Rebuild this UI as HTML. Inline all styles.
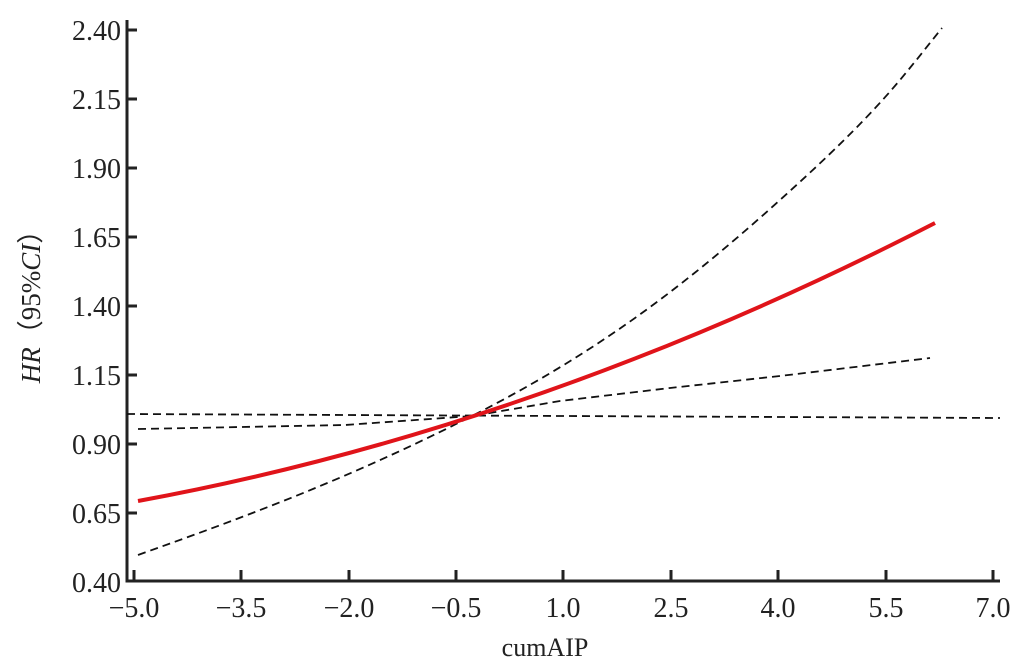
<!DOCTYPE html>
<html><head><style>body{margin:0;background:#fff}</style></head><body>
<svg width="1026" height="666" xmlns="http://www.w3.org/2000/svg" font-family="Liberation Serif, serif" fill="#222">
<g stroke="#222" stroke-width="3" fill="none">
<path d="M127,20 V581 H1000"/>
<path d="M127,30h10M127,99h10M127,168h10M127,237h10M127,306h10M127,375h10M127,444h10M127,513h10"/>
<path d="M134,581v-11M241,581v-11M349,581v-11M456,581v-11M563,581v-11M671,581v-11M778,581v-11M886,581v-11M993,581v-11"/>
</g>
<g font-size="28" text-anchor="end">
<text x="121" y="40">2.40</text><text x="121" y="109">2.15</text><text x="121" y="178">1.90</text><text x="121" y="247">1.65</text><text x="121" y="316">1.40</text><text x="121" y="385">1.15</text><text x="121" y="454">0.90</text><text x="121" y="523">0.65</text><text x="121" y="592">0.40</text>
</g>
<g font-size="28" text-anchor="middle">
<text x="134" y="617">−5.0</text><text x="241" y="617">−3.5</text><text x="349" y="617">−2.0</text><text x="456" y="617">−0.5</text><text x="563" y="617">1.0</text><text x="671" y="617">2.5</text><text x="778" y="617">4.0</text><text x="886" y="617">5.5</text><text x="993" y="617">7.0</text>
<text x="545" y="656" font-size="26">cumAIP</text>
</g>
<text transform="translate(40,300) rotate(-90)" font-size="27" text-anchor="middle"><tspan font-style="italic">HR</tspan>（95%<tspan font-style="italic">CI</tspan>）</text>
<g fill="none" stroke="#111" stroke-width="1.8" stroke-dasharray="8,5">
<path d="M127,414 L1000,418"/>
<path d="M138,429 L345,425 L472,416 L560,401 L670,388 L780,376 L930,358"/>
<path d="M138,555 C250,515 350,478 472,416 S680,290 780,200 S900,80 942,28"/>
</g>
<path d="M138,501 Q536,428 935,223" fill="none" stroke="#e0141a" stroke-width="4"/>
</svg>
</body></html>
